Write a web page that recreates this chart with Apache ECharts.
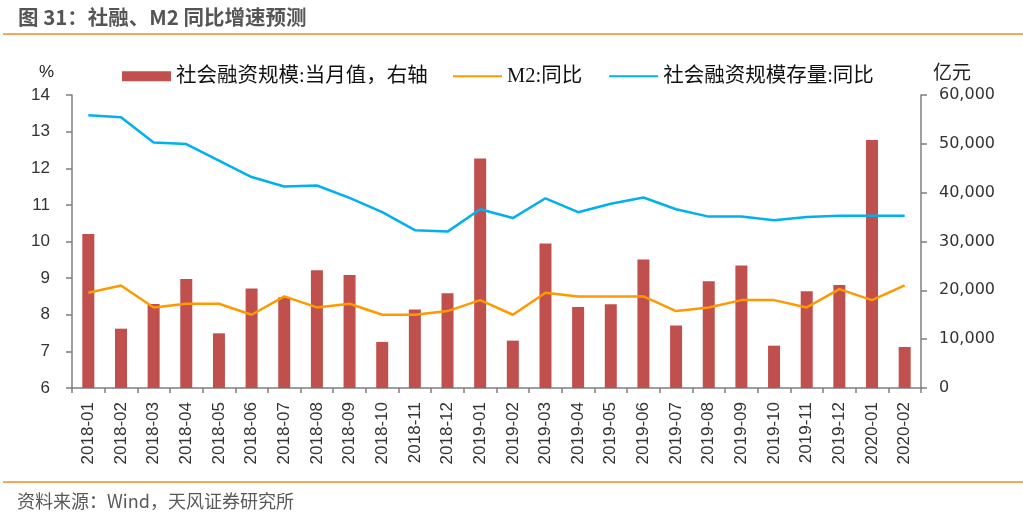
<!DOCTYPE html>
<html>
<head>
<meta charset="utf-8">
<script src="https://cdn.jsdelivr.net/npm/echarts@6/dist/echarts.min.js"></script>
<style>html,body{margin:0;padding:0;background:#fff;}#c{width:1023px;height:520px;}</style>
</head>
<body>
<div id="c"></div>
<script>
const categories = ['2018-01','2018-02','2018-03','2018-04','2018-05','2018-06','2018-07','2018-08','2018-09','2018-10','2018-11','2018-12','2019-01','2019-02','2019-03','2019-04','2019-05','2019-06','2019-07','2019-08','2019-09','2019-10','2019-11','2019-12','2020-01','2020-02'];
const tsfMonthly = [31560,12150,17200,22300,11200,20350,18600,24100,23150,9430,16100,19400,47000,9700,29570,16600,17150,26300,12800,21850,25100,8670,19800,21100,50760,8400];
const m2Yoy = [8.6,8.8,8.2,8.3,8.3,8.0,8.5,8.2,8.3,8.0,8.0,8.1,8.4,8.0,8.6,8.5,8.5,8.5,8.1,8.2,8.4,8.4,8.2,8.7,8.4,8.8];
const tsfStockYoy = [13.45,13.39,12.70,12.66,12.21,11.76,11.50,11.53,11.19,10.80,10.31,10.27,10.88,10.64,11.18,10.80,11.03,11.20,10.88,10.68,10.68,10.58,10.67,10.70,10.70,10.70];
const names = ['社会融资规模:当月值，右轴','M2:同比','社会融资规模存量:同比'];

const chart = echarts.init(document.getElementById('c'));
const axisLineStyle = {color:'#7f7f7f', width:1.5};
const legendText = {fontSize:20.5, color:'#111', fontFamily:'"Liberation Serif","Noto Sans CJK SC",serif'};
chart.setOption({
  animation:false,
  backgroundColor:'#fff',
  graphic:[
    {type:'text', left:18, top:7, style:{text:'图 31：社融、M2 同比增速预测', fill:'#555', font:'bold 20.5px "Noto Sans CJK SC", sans-serif'}},
    {type:'line', shape:{x1:3,y1:34,x2:1023,y2:34}, style:{stroke:'#F28A1E', lineWidth:1.5}},
    {type:'line', shape:{x1:3,y1:482,x2:1023,y2:482}, style:{stroke:'#F28A1E', lineWidth:1.5}},
    {type:'text', left:17, top:492, style:{text:'资料来源：Wind，天风证券研究所', fill:'#595959', font:'18px "Noto Sans CJK SC", sans-serif'}},
    {type:'text', left:39, top:64, style:{text:'%', fill:'#222', font:'17px "Liberation Sans", sans-serif'}},
    {type:'text', left:933, top:62, style:{text:'亿元', fill:'#222', font:'19px "Noto Sans CJK SC", sans-serif'}}
  ],
  legend:[
    {left:117, top:61, itemWidth:49, itemHeight:10, textStyle:legendText,
     data:[{name:names[0], icon:'rect'}]},
    {left:448, top:61, itemGap:27, itemWidth:49, itemHeight:2, textStyle:legendText,
     data:[{name:names[1], icon:'rect'}, {name:names[2], icon:'rect'}]}
  ],
  grid:{left:72, right:102, top:95, bottom:132},
  xAxis:{
    type:'category', data:categories,
    axisLine:{lineStyle:axisLineStyle},
    axisTick:{show:true, interval:0, alignWithLabel:false, length:5, lineStyle:axisLineStyle},
    axisLabel:{interval:0, rotate:90, margin:14, color:'#333', fontSize:17, fontFamily:'"Liberation Sans", sans-serif'}
  },
  yAxis:[
    {type:'value', min:6, max:14, interval:1, position:'left',
     axisLine:{show:true, lineStyle:axisLineStyle},
     axisTick:{show:true, length:6, lineStyle:axisLineStyle},
     splitLine:{show:false},
     axisLabel:{margin:22, color:'#333', fontSize:17, fontFamily:'"Liberation Sans", sans-serif'}},
    {type:'value', min:0, max:60000, interval:10000, position:'right',
     axisLine:{show:true, lineStyle:axisLineStyle},
     axisTick:{show:true, length:6, lineStyle:axisLineStyle},
     splitLine:{show:false},
     axisLabel:{margin:18, color:'#333', fontSize:16, fontFamily:'"DejaVu Sans", sans-serif',
       formatter:v=>v.toLocaleString('en-US')}}
  ],
  series:[
    {name:names[0], type:'bar', yAxisIndex:1, data:tsfMonthly, barWidth:12,
     itemStyle:{color:'#C0504D'}},
    {name:names[1], type:'line', yAxisIndex:0, data:m2Yoy, symbol:'none',
     lineStyle:{color:'#FF9900', width:2.5}, itemStyle:{color:'#FF9900'}},
    {name:names[2], type:'line', yAxisIndex:0, data:tsfStockYoy, symbol:'none',
     lineStyle:{color:'#00B0F0', width:2.5}, itemStyle:{color:'#00B0F0'}}
  ]
});
</script>
</body>
</html>
